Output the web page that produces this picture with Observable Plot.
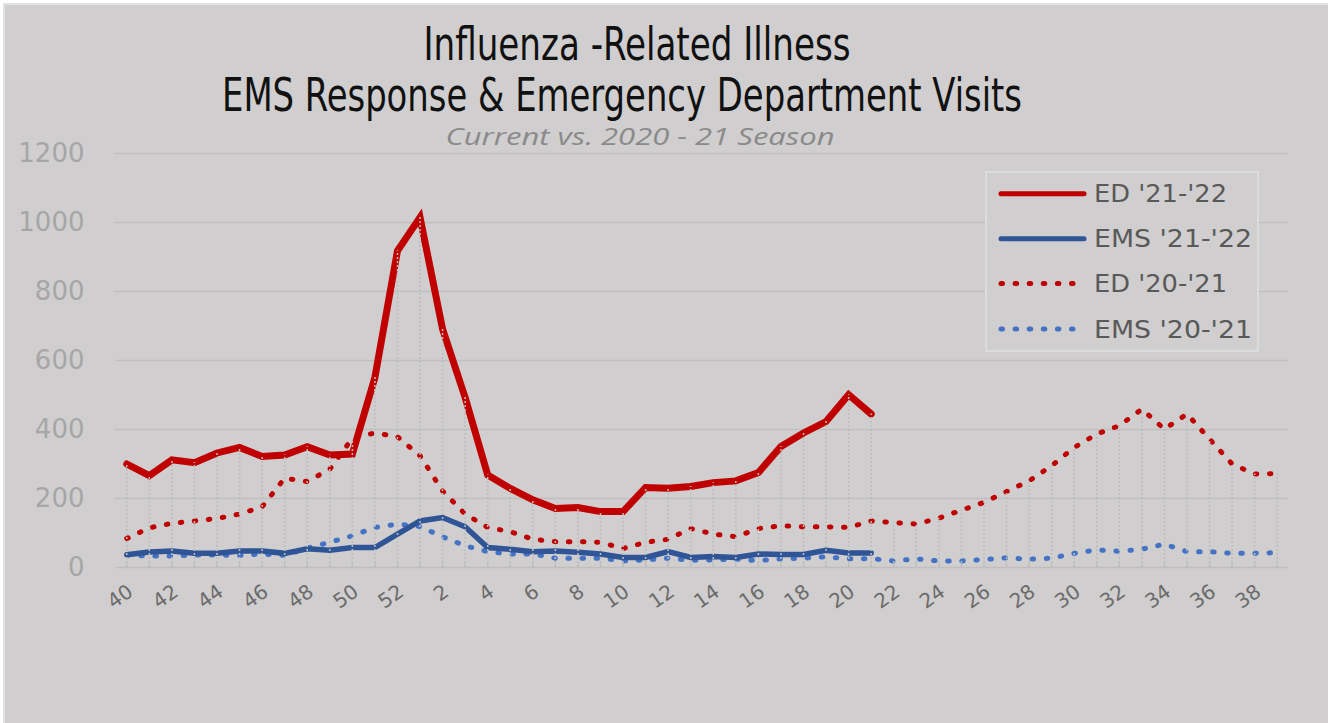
<!DOCTYPE html>
<html>
<head>
<meta charset="utf-8">
<script src="https://cdn.jsdelivr.net/npm/d3@7"></script>
<script src="https://cdn.jsdelivr.net/npm/@observablehq/plot@0.6"></script>
<style>
  html, body { margin: 0; padding: 0; background: #ffffff; width: 1328px; height: 723px; overflow: hidden; }
  #frame { position: absolute; left: 3px; top: 3px; width: 1325px; height: 720px; background: #d0cece; border-left: 2px solid #e2e2e2; border-top: 2px solid #e2e2e2; box-sizing: border-box; }
  #chart { position: absolute; left: 0; top: 130px; }
  #overlay { position: absolute; left: 0; top: 0; pointer-events: none; }
</style>
</head>
<body>
<div id="frame"></div>
<div id="chart"></div>
<svg id="overlay" width="1328" height="723"></svg>
<script>
// ---- data ----
const weeks = [40,41,42,43,44,45,46,47,48,49,50,51,52,1,2,3,4,5,6,7,8,9,10,11,12,13,14,15,16,17,18,19,20,21,22,23,24,25,26,27,28,29,30,31,32,33,34,35,36,37,38,39];
const tickLabels = [40,42,44,46,48,50,52,2,4,6,8,10,12,14,16,18,20,22,24,26,28,30,32,34,36,38];
const edCurrent  = [300,266,312,304,332,348,322,326,350,326,329,551,918,1015,691,493,268,229,196,171,174,162,162,232,230,235,246,251,275,351,390,423,501,445];
const emsCurrent = [37,45,48,41,41,48,48,41,54,50,58,58,97,135,145,118,58,53,46,48,44,39,29,29,46,29,32,29,39,38,38,50,42,42];
const edPrior    = [84,115,128,135,142,155,176,259,249,285,375,390,379,324,222,155,116,104,82,75,75,73,55,73,82,113,97,89,113,121,118,118,116,135,130,126,143,166,189,220,251,295,348,387,411,459,401,445,372,300,271,272];
const emsPrior   = [36,33,33,36,36,35,39,35,56,73,92,116,126,119,89,63,46,39,39,27,27,27,19,22,27,21,22,24,20,25,27,31,25,26,19,25,19,19,23,28,24,27,41,51,47,53,68,46,46,41,41,43];
const seriesNames = ["ED '21-'22", "EMS '21-'22", "ED '20-'21", "EMS '20-'21"];
const yTicks = [0,200,400,600,800,1000,1200];

// ---- table ----
const rows = weeks.map((w, i) => ({
  i, week: w,
  edCurrent: edCurrent[i] ?? null,
  emsCurrent: emsCurrent[i] ?? null,
  edPrior: edPrior[i] ?? null,
  emsPrior: emsPrior[i] ?? null
}));
rows.forEach(r => { r.top = Math.max(...[r.edCurrent, r.emsCurrent, r.edPrior, r.emsPrior].filter(v => v != null)); });
const idxOf = w => weeks.indexOf(w);

const RED = "#c00000", BLUE = "#2f5597", LBLUE = "#4472c4";
const DOTS = "1.5,12.6";
const dotted = {strokeWidth: 5, strokeDasharray: DOTS, strokeLinecap: "round"};

const chart = Plot.plot({
  width: 1328, height: 520,
  marginLeft: 115, marginRight: 40, marginTop: 23, marginBottom: 83,
  style: {background: "transparent", fontFamily: "DejaVu Sans", overflow: "visible"},
  x: {type: "linear", domain: [-0.5, weeks.length - 0.5], axis: null},
  y: {domain: [0, 1200], axis: null},
  marks: [
    Plot.gridY(yTicks.filter(v => v > 0), {stroke: "#bfbfbf", strokeOpacity: 1, strokeWidth: 1.5}),
    Plot.axisY({ticks: yTicks, tickFormat: d => String(d), tickSize: 0, tickPadding: 31, fontSize: 26, fill: "#a6a6a6", label: null}),
    Plot.ruleY([0], {stroke: "#bfbfbf", strokeWidth: 1.5}),
    Plot.axisX({ticks: weeks.map((w, i) => i), tickSize: -5, tickFormat: () => "", stroke: "#bfbfbf", strokeWidth: 1.2, label: null}),
    Plot.axisX({ticks: tickLabels.map(idxOf), tickFormat: i => String(weeks[i]), tickSize: 0, tickRotate: -35, tickPadding: 22, dx: 4,
                textAnchor: "end", lineAnchor: "middle", fontSize: 20, fill: "#6b6b6b", label: null}),
    Plot.line(rows, {x: "i", y: "edPrior", stroke: RED, ...dotted}),
    Plot.line(rows, {x: "i", y: "emsPrior", stroke: LBLUE, ...dotted}),
    Plot.line(rows.filter(r => r.emsCurrent != null), {x: "i", y: "emsCurrent", stroke: BLUE, strokeWidth: 5.5, strokeLinejoin: "miter", strokeMiterlimit: 4}),
    Plot.line(rows.filter(r => r.edCurrent != null), {x: "i", y: "edCurrent", stroke: RED, strokeWidth: 7, strokeLinejoin: "miter", strokeMiterlimit: 4}),
    Plot.ruleX(rows, {x: "i", y1: 0, y2: "top", stroke: "#bdbdbd", strokeWidth: 1.5, strokeDasharray: "2,2"})
  ]
});
document.getElementById("chart").appendChild(chart);

// ---- titles and legend (overlay) ----
const ov = d3.select("#overlay");
ov.append("text").attr("x", 637).attr("y", 60).attr("text-anchor", "middle")
  .attr("textLength", 427).attr("lengthAdjust", "spacingAndGlyphs")
  .style("font-family", "'Liberation Sans Narrow', 'DejaVu Sans Condensed', sans-serif").style("font-size", "46px").attr("fill", "#111")
  .text("Influenza -Related Illness");
ov.append("text").attr("x", 622).attr("y", 111).attr("text-anchor", "middle")
  .attr("textLength", 800).attr("lengthAdjust", "spacingAndGlyphs")
  .style("font-family", "'Liberation Sans Narrow', 'DejaVu Sans Condensed', sans-serif").style("font-size", "46px").attr("fill", "#111")
  .text("EMS Response & Emergency Department Visits");
ov.append("text").attr("x", 640).attr("y", 145).attr("text-anchor", "middle")
  .attr("textLength", 389).attr("lengthAdjust", "spacingAndGlyphs")
  .style("font-family", "'Open Sans', sans-serif").style("font-style", "italic").style("font-size", "24px").attr("fill", "#8a8a8a")
  .text("Current vs. 2020 - 21 Season");

const lg = ov.append("g");
lg.append("rect").attr("x", 986).attr("y", 172).attr("width", 272).attr("height", 179)
  .attr("fill", "#d0cece").attr("stroke", "#dcdcdc").attr("stroke-width", 2);
const legendStyles = [
  {stroke: RED, w: 5, dash: null},
  {stroke: BLUE, w: 5, dash: null},
  {stroke: RED, w: 5, dash: DOTS},
  {stroke: LBLUE, w: 5, dash: DOTS}
];
const legendY = [193.7, 238.7, 283.5, 329];
const legendTextW = [133, 158, 133, 158];
seriesNames.forEach((name, k) => {
  const s = legendStyles[k];
  const ln = lg.append("line").attr("x1", 1001).attr("x2", s.dash ? 1077 : 1084).attr("y1", legendY[k]).attr("y2", legendY[k])
    .attr("stroke", s.stroke).attr("stroke-width", s.w).attr("stroke-linecap", "round");
  if (s.dash) ln.attr("stroke-dasharray", s.dash);
  lg.append("text").attr("x", 1094).attr("y", legendY[k] + 8.5).style("font-family", "'DejaVu Sans', sans-serif")
    .attr("textLength", legendTextW[k]).attr("lengthAdjust", "spacingAndGlyphs")
    .style("font-size", "24px").attr("fill", "#595959").text(name);
});
</script>
</body>
</html>
